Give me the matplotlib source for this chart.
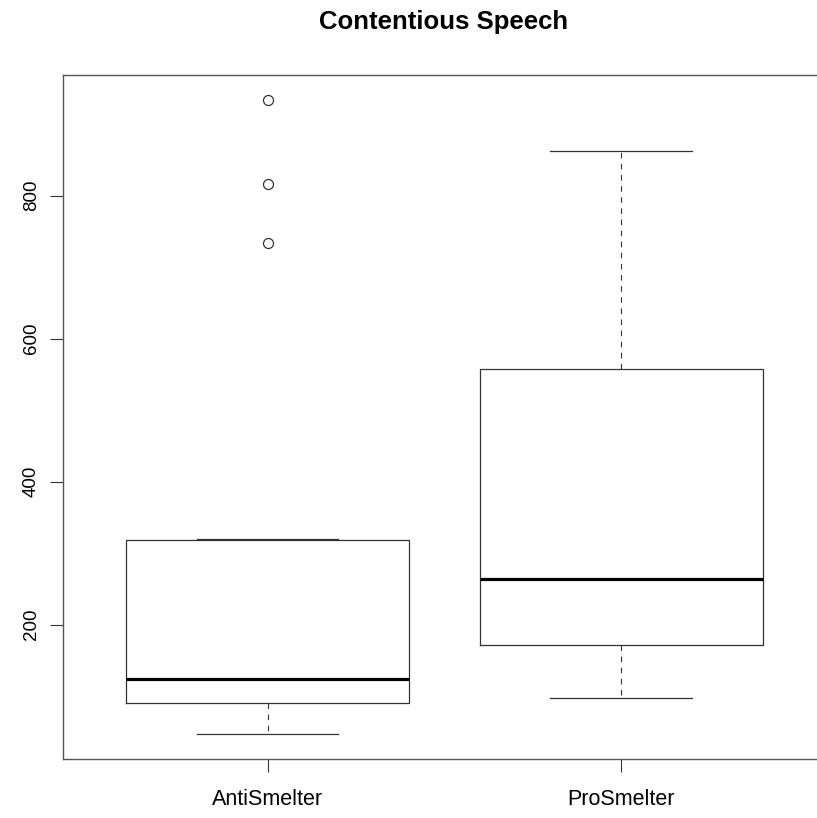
import matplotlib
matplotlib.use("Agg")
from matplotlib import pyplot as plt

plt.rcParams["font.family"] = ["Liberation Sans", "DejaVu Sans"]

# five-number summaries per group, plus the points beyond the whiskers
groups = ["AntiSmelter", "ProSmelter"]
whisker_low = [47.6, 97.3]
quartile_1 = [90.9, 171.1]
medians = [124.5, 264.3]
quartile_3 = [318.3, 557.5]
whisker_high = [320.3, 862.4]
outliers = [[734.3, 816.8, 933.3], []]
yticks = [200, 400, 600, 800]

stats = []
for i, name in enumerate(groups):
    stats.append({
        "label": name,
        "whislo": whisker_low[i],
        "q1": quartile_1[i],
        "med": medians[i],
        "q3": quartile_3[i],
        "whishi": whisker_high[i],
        "fliers": outliers[i],
    })

line_col = "#333333"

fig = plt.figure(figsize=(8.17, 8.18), dpi=100)
# frame runs slightly past the right edge of the canvas
ax = fig.add_axes([0.0767, 0.0721, 1.0113 - 0.0767, 0.9083 - 0.0721])

ax.bxp(
    stats,
    positions=[1, 2],
    widths=0.8,
    capwidths=0.4,
    patch_artist=False,
    boxprops=dict(color=line_col, linewidth=0.9),
    medianprops=dict(color="black", linewidth=2.3, solid_capstyle="butt"),
    whiskerprops=dict(color=line_col, linewidth=0.8, linestyle=(0, (5, 5))),
    capprops=dict(color=line_col, linewidth=0.9),
    flierprops=dict(marker="o", markerfacecolor="none", markeredgecolor=line_col,
                    markersize=7.2, markeredgewidth=0.9),
)

# same 4% padding R uses around the data range
lo = min(min(whisker_low), min(v for o in outliers for v in o))
hi = max(max(whisker_high), max(v for o in outliers for v in o))
pad = 0.04 * (hi - lo)
ax.set_ylim(lo - pad, hi + pad)
ax.set_xlim(0.42, 2.58)

ax.set_yticks(yticks)
ax.set_yticklabels([str(t) for t in yticks], rotation=90, va="center", fontsize=13.5)
ax.set_xticks([1, 2])
ax.set_xticklabels(groups, fontsize=15.5)
ax.tick_params(axis="both", length=9.5, width=0.8, color=line_col)
ax.tick_params(axis="y", pad=7)
ax.tick_params(axis="x", pad=12)

for side in ["left", "bottom", "top", "right"]:
    ax.spines[side].set_color("#555555")
    ax.spines[side].set_linewidth(1.0)

fig.text(0.5435, 1 - 22 / 818, "Contentious Speech", ha="center", va="center",
         fontsize=18.5, fontweight="bold")

fig.savefig("out.png", dpi=100)
